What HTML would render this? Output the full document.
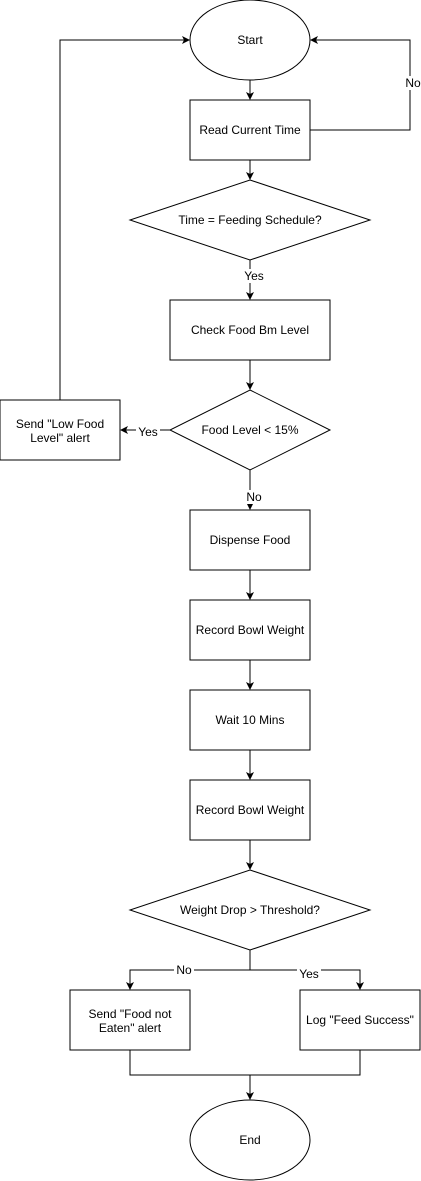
<!DOCTYPE html>
<html><head><meta charset="utf-8"><style>
html,body{margin:0;padding:0;background:#fff;}
svg{display:block;}
text{font-family:"Liberation Sans",Arial,sans-serif;font-size:12px;fill:#000;}
</style></head><body>
<svg width="421" height="1181" viewBox="0 0 421 1181" xmlns="http://www.w3.org/2000/svg">
<defs><marker id="a" markerWidth="8" markerHeight="8" refX="7" refY="4" orient="auto" markerUnits="userSpaceOnUse"><path d="M0,0 L8,4 L0,8 L2,4 z" fill="#000"/></marker></defs>
<g fill="#fff" stroke="#000" stroke-width="1">
<ellipse cx="250" cy="40" rx="60" ry="40"/>
<rect x="190" y="100" width="120" height="60"/>
<polygon points="250,180 370,220 250,260 130,220"/>
<rect x="170" y="300" width="160" height="60"/>
<polygon points="250,390 330,430 250,470 170,430"/>
<rect x="0" y="400" width="120" height="60"/>
<rect x="190" y="510" width="120" height="60"/>
<rect x="190" y="600" width="120" height="60"/>
<rect x="190" y="690" width="120" height="60"/>
<rect x="190" y="780" width="120" height="60"/>
<polygon points="250,870 370,910 250,950 130,910"/>
<rect x="70" y="990" width="120" height="60"/>
<rect x="300" y="990" width="120" height="60"/>
<ellipse cx="250" cy="1140" rx="60" ry="40"/>
</g>
<g fill="none" stroke="#000" stroke-width="1">
<path d="M250,80 V99" marker-end="url(#a)"/>
<path d="M310,130 H410 V40 H311" marker-end="url(#a)"/>
<path d="M250,160 V179" marker-end="url(#a)"/>
<path d="M250,260 V299" marker-end="url(#a)"/>
<path d="M250,360 V389" marker-end="url(#a)"/>
<path d="M170,430 H121" marker-end="url(#a)"/>
<path d="M60,400 V40 H189" marker-end="url(#a)"/>
<path d="M250,470 V509" marker-end="url(#a)"/>
<path d="M250,570 V599" marker-end="url(#a)"/>
<path d="M250,660 V689" marker-end="url(#a)"/>
<path d="M250,750 V779" marker-end="url(#a)"/>
<path d="M250,840 V869" marker-end="url(#a)"/>
<path d="M250,950 V970 H130 V989" marker-end="url(#a)"/>
<path d="M250,970 H360 V989" marker-end="url(#a)"/>
<path d="M130,1050 V1075 H360 V1050"/>
<path d="M250,1075 V1099" marker-end="url(#a)"/>
</g>
<g text-anchor="middle">
<text x="250" y="44">Start</text>
<text x="250" y="134">Read Current Time</text>
<text x="250" y="224">Time = Feeding Schedule?</text>
<rect x="242" y="269" width="24" height="14" fill="#fff"/>
<text x="254" y="280" font-size="11">Yes</text>
<text x="250" y="334">Check Food Bm Level</text>
<text x="250" y="434">Food Level &lt; 15%</text>
<rect x="136" y="425" width="24" height="14" fill="#fff"/>
<text x="148" y="436" font-size="11">Yes</text>
<text x="60" y="428">Send "Low Food</text>
<text x="60" y="442">Level" alert</text>
<rect x="403" y="76" width="20" height="14" fill="#fff"/>
<text x="413" y="87" font-size="11">No</text>
<rect x="244" y="490" width="20" height="14" fill="#fff"/>
<text x="254" y="501" font-size="11">No</text>
<text x="250" y="544">Dispense Food</text>
<text x="250" y="634">Record Bowl Weight</text>
<text x="250" y="724">Wait 10 Mins</text>
<text x="250" y="814">Record Bowl Weight</text>
<text x="250" y="914">Weight Drop &gt; Threshold?</text>
<rect x="174" y="963" width="20" height="14" fill="#fff"/>
<text x="184" y="974" font-size="11">No</text>
<rect x="297" y="967" width="24" height="14" fill="#fff"/>
<text x="309" y="978" font-size="11">Yes</text>
<text x="130" y="1018">Send "Food not</text>
<text x="130" y="1032">Eaten" alert</text>
<text x="360" y="1024">Log "Feed Success"</text>
<text x="250" y="1144">End</text>
</g>
</svg>
</body></html>
